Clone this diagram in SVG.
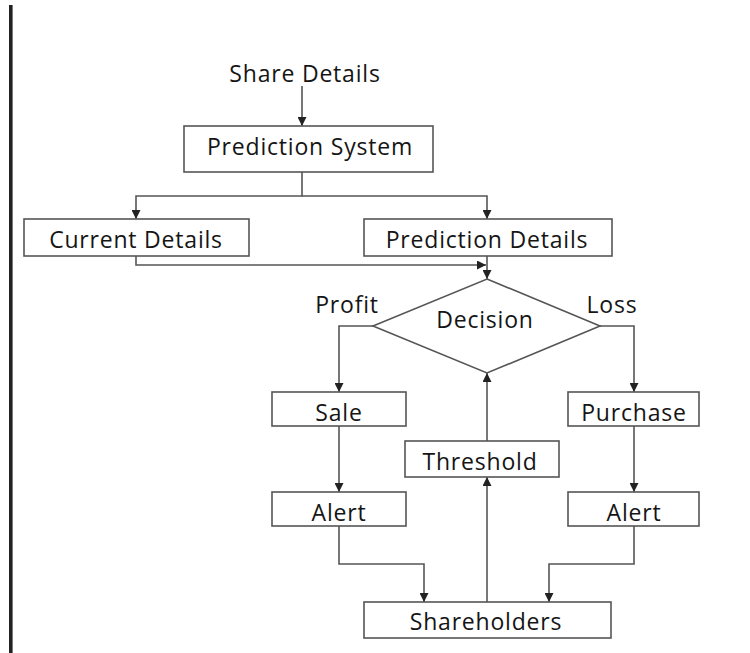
<svg xmlns="http://www.w3.org/2000/svg" width="750" height="653" viewBox="0 0 750 653">
<style>
.box{fill:#fff;stroke:#555;stroke-width:1.6}
.t{font-family:"Open Sans","DejaVu Sans",sans-serif;font-size:23px;letter-spacing:0.8px;fill:#151515;text-anchor:middle}
.c{fill:none;stroke:#555;stroke-width:1.6}
</style>
<defs>
<marker id="ah" markerUnits="userSpaceOnUse" markerWidth="9" markerHeight="9" refX="8" refY="4" orient="auto" viewBox="0 0 8 8">
<path d="M0,0 L8,4 L0,8 z" fill="#222"/>
</marker>
</defs>
<rect width="750" height="653" fill="#fff"/>
<rect x="9" y="5" width="3.6" height="648" fill="#222"/>
<g id="connectors">
<path class="c" d="M302,86 V126" marker-end="url(#ah)"/>
<path class="c" d="M302,172 V196 H136 V219" marker-end="url(#ah)"/>
<path class="c" d="M302,196 H487 V219" marker-end="url(#ah)"/>
<path class="c" d="M136,256 V265 H486" marker-end="url(#ah)"/>
<path class="c" d="M487,256 V279" marker-end="url(#ah)"/>
<path class="c" d="M373,326 H339 V392" marker-end="url(#ah)"/>
<path class="c" d="M600,326 H634 V392" marker-end="url(#ah)"/>
<path class="c" d="M339,426 V492" marker-end="url(#ah)"/>
<path class="c" d="M634,426 V492" marker-end="url(#ah)"/>
<path class="c" d="M339,526 V564 H424 V602" marker-end="url(#ah)"/>
<path class="c" d="M634,526 V564 H549 V602" marker-end="url(#ah)"/>
<path class="c" d="M487,602 V477" marker-end="url(#ah)"/>
<path class="c" d="M487,441 V373" marker-end="url(#ah)"/>
</g>
<g id="share-details"><text class="t" x="305" y="82">Share Details</text></g>
<g id="prediction-system"><rect class="box" x="184" y="126" width="249" height="46"/><text class="t" x="310" y="155">Prediction System</text></g>
<g id="current-details"><rect class="box" x="24" y="219" width="225" height="37"/><text class="t" x="136" y="248">Current Details</text></g>
<g id="prediction-details"><rect class="box" x="364" y="219" width="248" height="37"/><text class="t" x="487" y="248">Prediction Details</text></g>
<g id="decision"><polygon class="box" points="487,279 600,326 487,373 373,326"/><text class="t" x="485" y="328">Decision</text></g>
<g id="profit-label"><text class="t" x="347" y="313">Profit</text></g>
<g id="loss-label"><text class="t" x="612" y="313">Loss</text></g>
<g id="sale"><rect class="box" x="272" y="392" width="134" height="34"/><text class="t" x="339" y="421">Sale</text></g>
<g id="purchase"><rect class="box" x="568" y="392" width="131" height="34"/><text class="t" x="634" y="421">Purchase</text></g>
<g id="threshold"><rect class="box" x="405" y="441" width="154" height="36"/><text class="t" x="480" y="470">Threshold</text></g>
<g id="alert-left"><rect class="box" x="272" y="492" width="134" height="34"/><text class="t" x="339" y="521">Alert</text></g>
<g id="alert-right"><rect class="box" x="568" y="492" width="131" height="34"/><text class="t" x="634" y="521">Alert</text></g>
<g id="shareholders"><rect class="box" x="364" y="602" width="247" height="36"/><text class="t" x="486" y="630">Shareholders</text></g>
</svg>
